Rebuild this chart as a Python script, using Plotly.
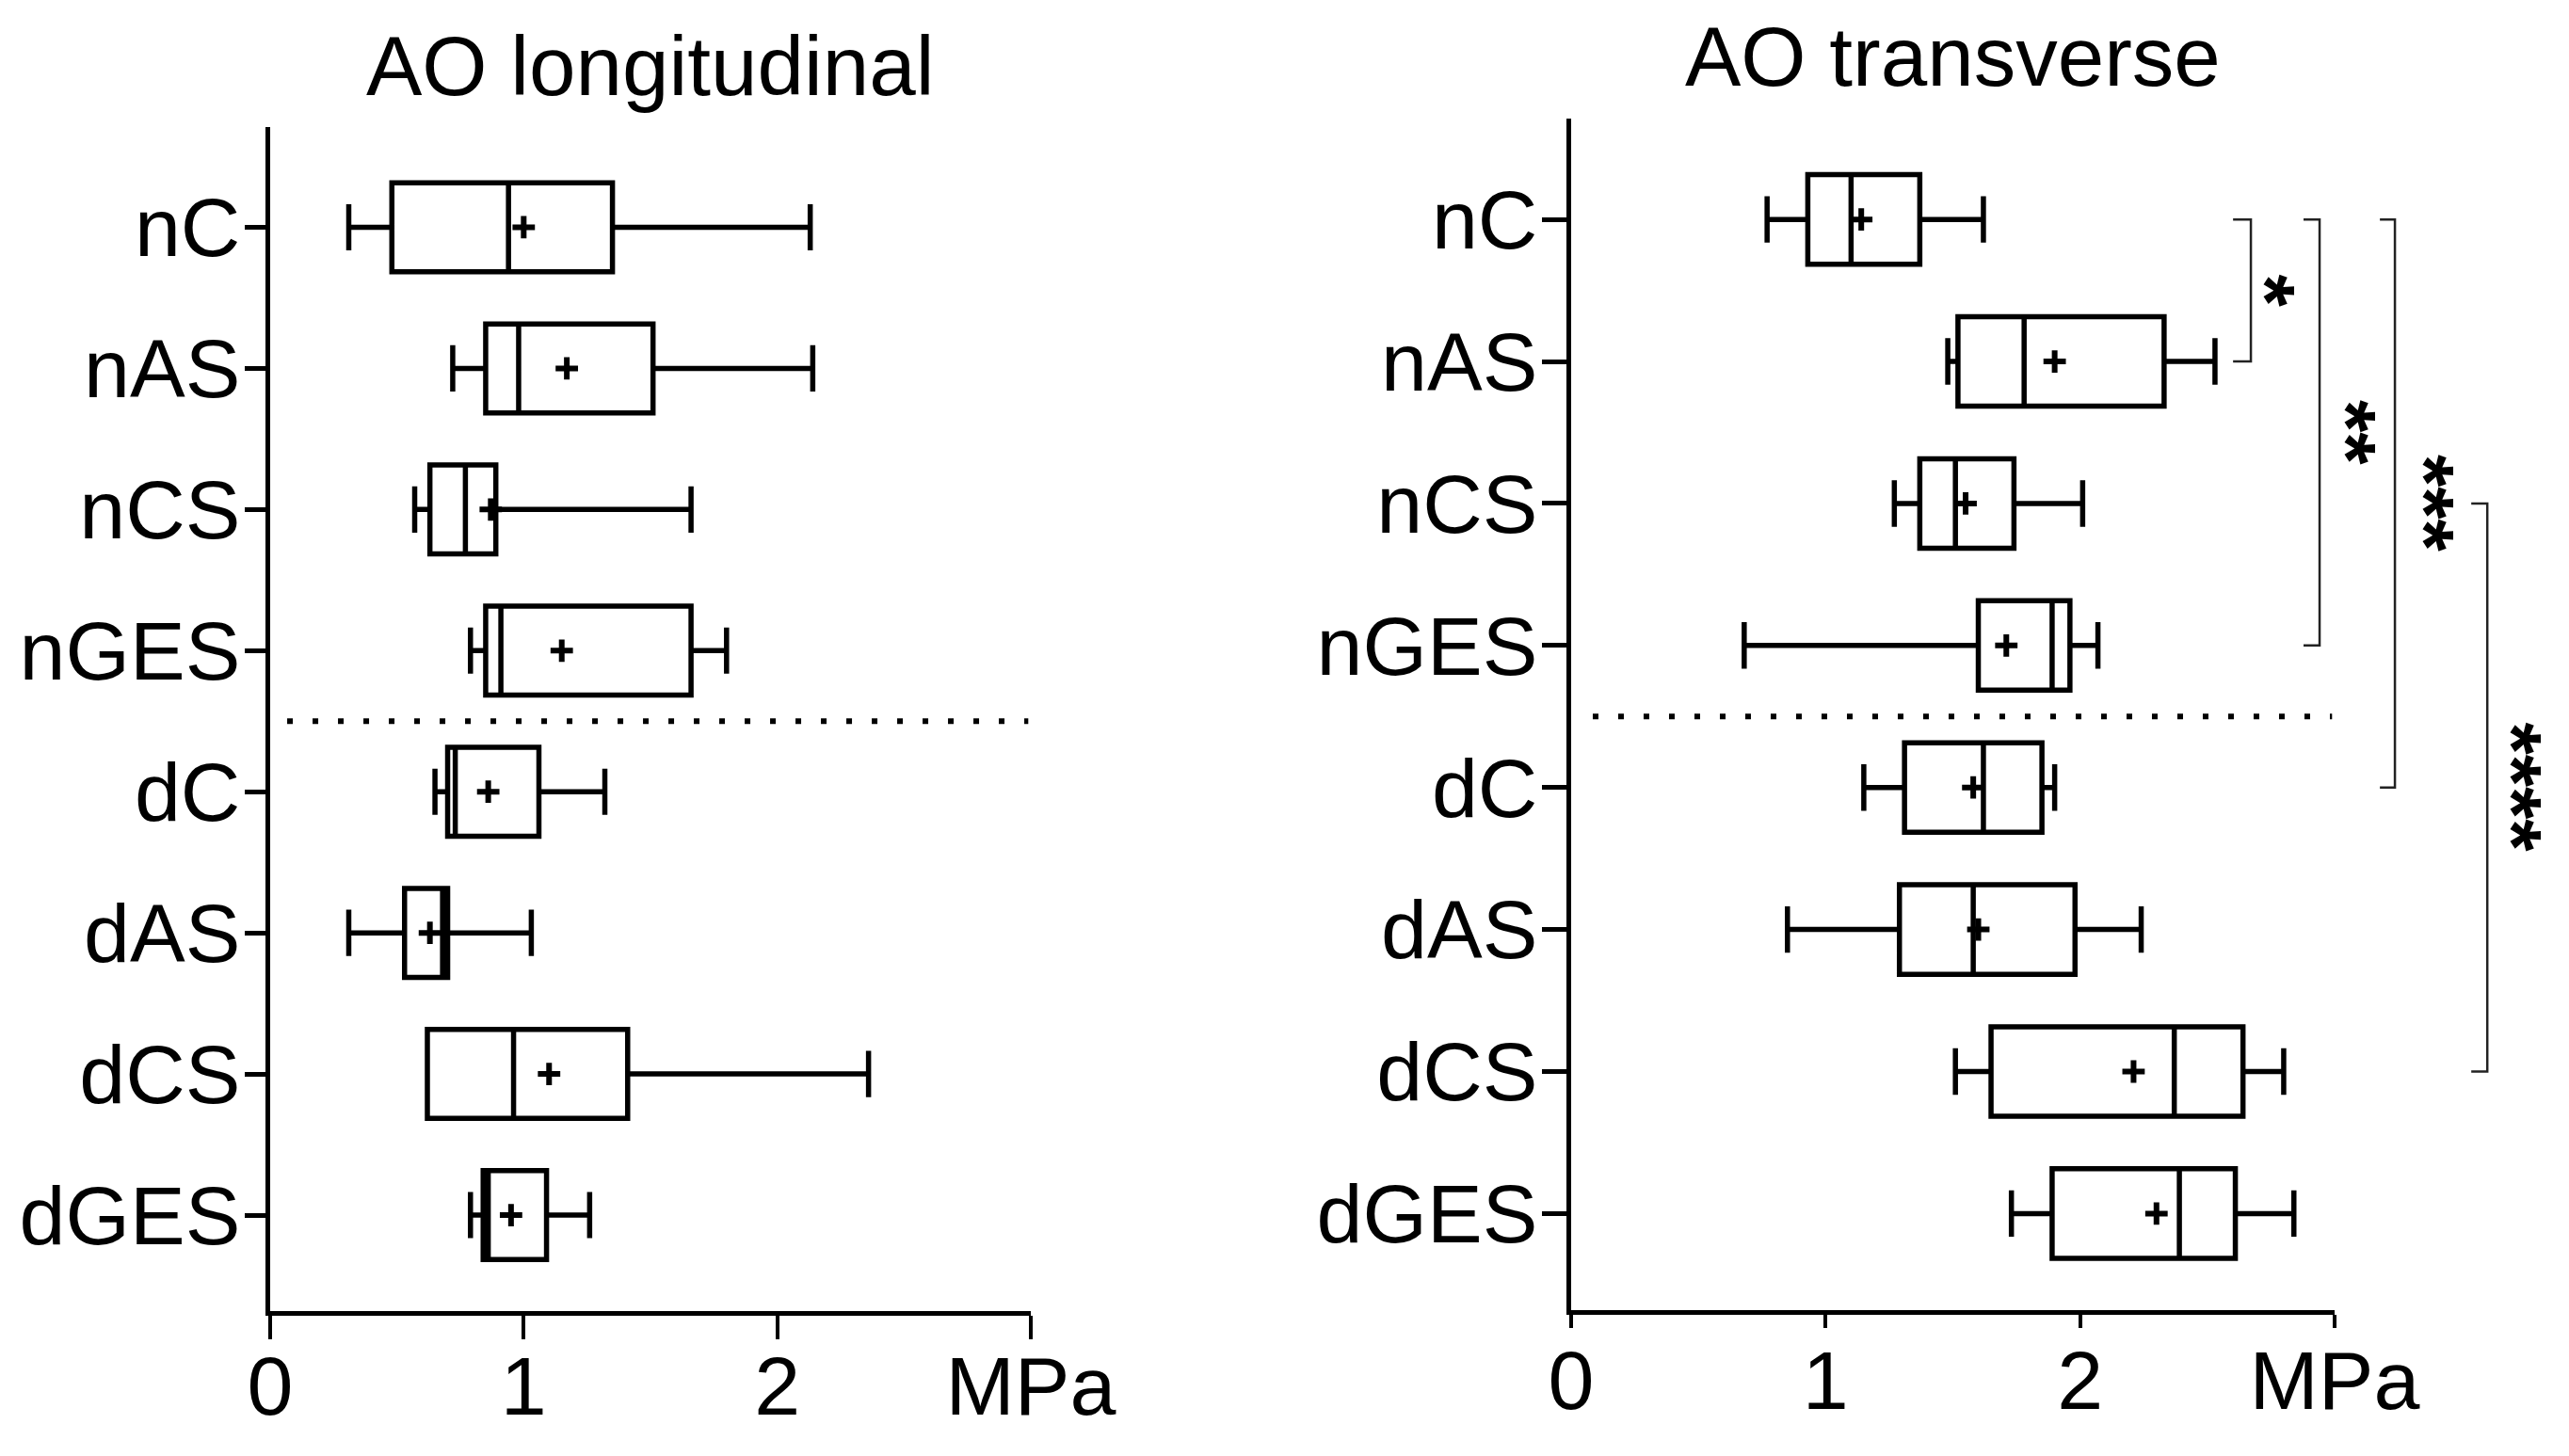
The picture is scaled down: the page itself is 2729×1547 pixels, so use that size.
import plotly.graph_objects as go

# ---------------- data ----------------
categories = ["nC", "nAS", "nCS", "nGES", "dC", "dAS", "dCS", "dGES"]
positions = list(range(len(categories)))

# AO longitudinal (MPa)
lon_min = [0.31, 0.72, 0.57, 0.79, 0.65, 0.31, 0.62, 0.79]
lon_q1 = [0.48, 0.85, 0.63, 0.85, 0.70, 0.53, 0.62, 0.84]
lon_med = [0.94, 0.98, 0.77, 0.91, 0.73, 0.68, 0.96, 0.86]
lon_mean = [1.00, 1.17, 0.87, 1.15, 0.86, 0.63, 1.10, 0.95]
lon_q3 = [1.35, 1.51, 0.89, 1.66, 1.06, 0.70, 1.41, 1.09]
lon_max = [2.13, 2.14, 1.66, 1.80, 1.32, 1.03, 2.36, 1.26]

# AO transverse (MPa)
tr_min = [0.77, 1.48, 1.27, 0.68, 1.15, 0.85, 1.51, 1.73]
tr_q1 = [0.93, 1.52, 1.37, 1.60, 1.31, 1.29, 1.65, 1.89]
tr_med = [1.10, 1.78, 1.51, 1.89, 1.62, 1.58, 2.37, 2.39]
tr_mean = [1.14, 1.90, 1.55, 1.71, 1.58, 1.60, 2.21, 2.30]
tr_q3 = [1.37, 2.33, 1.74, 1.96, 1.85, 1.98, 2.64, 2.61]
tr_max = [1.62, 2.53, 2.01, 2.07, 1.90, 2.24, 2.80, 2.84]

x_tickvals = [0, 1, 2, 3]
x_ticktext = ["0", "1", "2", "MPa"]
titles = ["AO longitudinal", "AO transverse"]

# significance brackets (transverse panel)
sig_labels = ["*", "**", "***", "****"]
sig_from = [0, 0, 0, 2]
sig_to = [1, 3, 4, 6]
sig_x = [2.671, 2.941, 3.237, 3.600]
sig_tick_x = [2.601, 2.878, 3.178, 3.537]
sig_text_x = [2.73, 3.05, 3.355, 3.70]

divider_y = 3.5

# ---------------- layout geometry ----------------
W, H = 2729, 1547
FONT = "Arial, Liberation Sans, sans-serif"
left_dom = [287 / W, 1095 / W]
right_dom = [1669 / W, 2480 / W]
left_ydom = [1 - 1393 / H, 1 - 135 / H]
right_ydom = [1 - 1392 / H, 1 - 126 / H]
yrange = [7.68, -0.71]

fig = go.Figure()


def add_panel(xa, ya, mn, q1, med, mean, q3, mx):
    fig.add_trace(go.Box(
        y=positions, q1=q1, median=med, q3=q3, lowerfence=mn, upperfence=mx,
        orientation="h", width=0.63, whiskerwidth=0.52,
        line=dict(color="black", width=5.5), fillcolor="white",
        boxpoints=False, showlegend=False, xaxis=xa, yaxis=ya, hoverinfo="skip",
    ))
    fig.add_trace(go.Scatter(
        x=mean, y=positions, mode="markers", showlegend=False,
        marker=dict(symbol="cross-thin", size=17, color="black",
                    line=dict(width=6, color="black")),
        xaxis=xa, yaxis=ya, hoverinfo="skip",
    ))


add_panel("x", "y", lon_min, lon_q1, lon_med, lon_mean, lon_q3, lon_max)
add_panel("x2", "y2", tr_min, tr_q1, tr_med, tr_mean, tr_q3, tr_max)

xaxis_common = dict(
    range=[0, 3], tickvals=x_tickvals, ticktext=x_ticktext,
    showline=True, linewidth=5, linecolor="black",
    ticks="outside", tickwidth=4, tickcolor="black",
    showgrid=False, zeroline=False, automargin=False,
    tickfont=dict(family=FONT, size=88, color="black"),
    fixedrange=True,
)
yaxis_common = dict(
    range=yrange, tickvals=positions, ticktext=categories,
    showline=True, linewidth=5, linecolor="black",
    ticks="outside", tickwidth=5, tickcolor="black",
    showgrid=False, zeroline=False, automargin=False,
    tickfont=dict(family=FONT, size=88, color="black"),
    fixedrange=True, ticklabelstandoff=-13,
)

fig.update_layout(
    width=W, height=H,
    margin=dict(l=0, r=0, t=0, b=0, pad=0, autoexpand=False),
    paper_bgcolor="white", plot_bgcolor="white",
    xaxis=dict(domain=left_dom, anchor="y", ticklen=25, ticklabelstandoff=-26, **xaxis_common),
    yaxis=dict(domain=left_ydom, anchor="x", ticklen=22, **yaxis_common),
    xaxis2=dict(domain=right_dom, anchor="y2", ticklen=14, ticklabelstandoff=-20, **xaxis_common),
    yaxis2=dict(domain=right_ydom, anchor="x2", ticklen=26, **yaxis_common),
    font=dict(family=FONT, color="black"),
    showlegend=False,
)

# titles
fig.add_annotation(text=titles[0], xref="paper", yref="paper",
                   x=(left_dom[0] + left_dom[1]) / 2, y=1 - 70 / H,
                   xanchor="center", yanchor="middle", showarrow=False,
                   font=dict(family=FONT, size=89, color="black"))
fig.add_annotation(text=titles[1], xref="paper", yref="paper",
                   x=(right_dom[0] + right_dom[1]) / 2, y=1 - 60 / H,
                   xanchor="center", yanchor="middle", showarrow=False,
                   font=dict(family=FONT, size=89, color="black"))

# dotted dividers
fig.add_shape(type="line", xref="x", yref="y", x0=0.067, x1=2.99,
              y0=divider_y, y1=divider_y,
              line=dict(color="black", width=6, dash="6px,21px"))
fig.add_shape(type="line", xref="x2", yref="y2", x0=0.085, x1=2.99,
              y0=divider_y, y1=divider_y,
              line=dict(color="black", width=6, dash="6px,21px"))


def to_paper(v):
    return right_dom[0] + v / 3 * (right_dom[1] - right_dom[0])


for lab, a, b, xv, xt, tx in zip(sig_labels, sig_from, sig_to, sig_x, sig_tick_x, sig_text_x):
    px, pt = to_paper(xv), to_paper(xt)
    path = f"M {pt},{a} L {px},{a} L {px},{b} L {pt},{b}"
    fig.add_shape(type="path", path=path, xref="paper", yref="y2",
                  line=dict(color="#222222", width=2.5))
    fig.add_annotation(text=f"<b>{lab}</b>", xref="paper", yref="y2",
                       x=to_paper(tx), y=(a + b) / 2, textangle=90,
                       xanchor="center", yanchor="middle", showarrow=False,
                       font=dict(family=FONT, size=88, color="black"))

fig.write_html("out.html", config={"displayModeBar": False},
               post_script="document.body.style.margin='0';document.body.style.overflow='hidden';")
